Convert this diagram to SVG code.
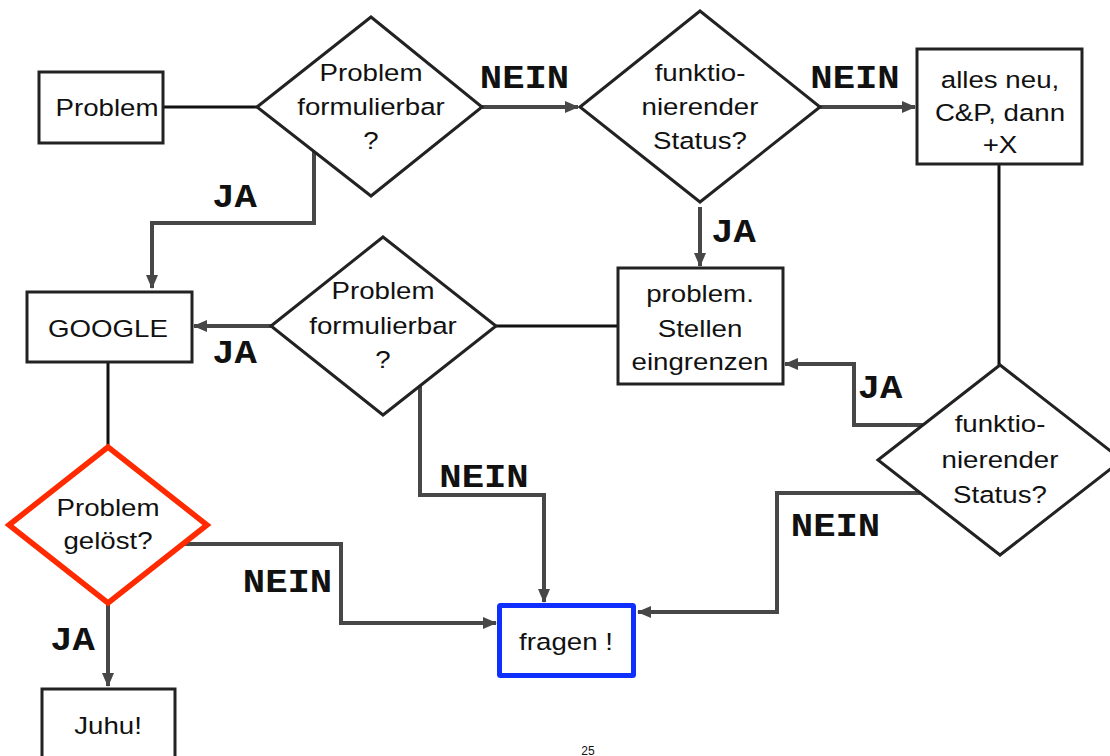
<svg xmlns="http://www.w3.org/2000/svg" width="1110" height="756" viewBox="0 0 1110 756">
<style>
.box{fill:#fff;stroke:#222;stroke-width:3}
.dia{fill:#fff;stroke:#222;stroke-width:3;stroke-linejoin:miter}
.red{fill:#fff;stroke:#ff2a00;stroke-width:5.5;stroke-linejoin:miter}
.blue{fill:#fff;stroke:#0f2fff;stroke-width:5}
.t{font-family:"Liberation Sans",Arial,sans-serif;font-size:24.5px;fill:#111;text-anchor:middle}
.lb{font-family:"Liberation Mono","Courier New",monospace;font-weight:bold;font-size:33px;fill:#111;text-anchor:middle}
.c{fill:none;stroke:#474747;stroke-width:4}
.k{fill:none;stroke:#111;stroke-width:3}
</style>
<defs>
<marker id="ah" markerUnits="userSpaceOnUse" markerWidth="14" markerHeight="12" viewBox="0 0 14 12" refX="13" refY="6" orient="auto">
<path d="M0,0 L14,6 L0,12 z" fill="#474747"/>
</marker>
</defs>
<rect width="1110" height="756" fill="#fff"/>
<g id="connectors">
<line class="k" x1="163" y1="107" x2="258" y2="107"/>
<line class="c" x1="482" y1="107" x2="578" y2="107" marker-end="url(#ah)"/>
<line class="c" x1="820" y1="107" x2="915" y2="107" marker-end="url(#ah)"/>
<line class="c" x1="700" y1="207" x2="700" y2="266" marker-end="url(#ah)"/>
<polyline class="c" points="314,151 314,223 152,223 152,288" marker-end="url(#ah)"/>
<line class="c" x1="271" y1="326" x2="194" y2="326" marker-end="url(#ah)"/>
<line class="k" x1="496" y1="326" x2="618" y2="326"/>
<polyline class="c" points="420,386 420,495 544,495 544,602" marker-end="url(#ah)"/>
<line class="k" x1="999" y1="164" x2="999" y2="365"/>
<polyline class="c" points="923,425 854,425 854,364 785,364" marker-end="url(#ah)"/>
<polyline class="c" points="920,493 777,493 777,612 638,612" marker-end="url(#ah)"/>
<line class="k" x1="108" y1="362" x2="108" y2="447"/>
<polyline class="c" points="184,544 341,544 341,623 496,623" marker-end="url(#ah)"/>
<line class="c" x1="108" y1="603" x2="108" y2="686" marker-end="url(#ah)"/>
<text class="lb" transform="translate(524.5 88) scale(1.13 1)">NEIN</text>
<text class="lb" transform="translate(855 88) scale(1.13 1)">NEIN</text>
<text class="lb" transform="translate(733.5 242) scale(1.13 1)">JA</text>
<text class="lb" transform="translate(234.5 207) scale(1.13 1)">JA</text>
<text class="lb" transform="translate(234.5 363) scale(1.13 1)">JA</text>
<text class="lb" transform="translate(484 487) scale(1.13 1)">NEIN</text>
<text class="lb" transform="translate(880 398) scale(1.13 1)">JA</text>
<text class="lb" transform="translate(835.5 536) scale(1.13 1)">NEIN</text>
<text class="lb" transform="translate(287.5 592) scale(1.13 1)">NEIN</text>
<text class="lb" transform="translate(72.5 650) scale(1.13 1)">JA</text>
</g>
<g id="problem">
<rect class="box" x="39" y="72" width="124" height="71"/>
<text class="t" transform="translate(107 116) scale(1.13 1)">Problem</text>
</g>
<g id="formulierbar1">
<polygon class="dia" points="257,107 371,17 482,107 371,196"/>
<text class="t" transform="translate(371 81) scale(1.13 1)">Problem</text>
<text class="t" transform="translate(371 115) scale(1.13 1)">formulierbar</text>
<text class="t" transform="translate(371 149) scale(1.13 1)">?</text>
</g>
<g id="status1">
<polygon class="dia" points="580,107 700,11 820,107 700,202"/>
<text class="t" transform="translate(700 81) scale(1.13 1)">funktio-</text>
<text class="t" transform="translate(700 115) scale(1.13 1)">nierender</text>
<text class="t" transform="translate(700 149) scale(1.13 1)">Status?</text>
</g>
<g id="allesneu">
<rect class="box" x="917" y="49" width="165" height="115"/>
<text class="t" transform="translate(1000 88) scale(1.13 1)">alles neu,</text>
<text class="t" transform="translate(1000 121) scale(1.13 1)">C&amp;P, dann</text>
<text class="t" transform="translate(1000 153) scale(1.13 1)">+X</text>
</g>
<g id="eingrenzen">
<rect class="box" x="618" y="268" width="165" height="116"/>
<text class="t" transform="translate(700 302) scale(1.13 1)">problem.</text>
<text class="t" transform="translate(700 337) scale(1.13 1)">Stellen</text>
<text class="t" transform="translate(700 370) scale(1.13 1)">eingrenzen</text>
</g>
<g id="formulierbar2">
<polygon class="dia" points="271,326 383,237 496,326 383,415"/>
<text class="t" transform="translate(383 299) scale(1.13 1)">Problem</text>
<text class="t" transform="translate(383 334) scale(1.13 1)">formulierbar</text>
<text class="t" transform="translate(383 368) scale(1.13 1)">?</text>
</g>
<g id="google">
<rect class="box" x="27" y="292" width="165" height="70"/>
<text class="t" transform="translate(108 337) scale(1.13 1)">GOOGLE</text>
</g>
<g id="status2">
<polygon class="dia" points="878,460 1000,365 1122,460 1000,555"/>
<text class="t" transform="translate(1000 432) scale(1.13 1)">funktio-</text>
<text class="t" transform="translate(1000 468) scale(1.13 1)">nierender</text>
<text class="t" transform="translate(1000 503) scale(1.13 1)">Status?</text>
</g>
<g id="geloest">
<polygon class="red" points="9,525 108,447 207,525 108,603"/>
<text class="t" transform="translate(108 516) scale(1.13 1)">Problem</text>
<text class="t" transform="translate(108 549) scale(1.13 1)">gelöst?</text>
</g>
<g id="fragen">
<rect class="blue" x="499.5" y="605.5" width="134" height="70" rx="1"/>
<text class="t" transform="translate(566 650) scale(1.13 1)">fragen !</text>
</g>
<g id="juhu">
<rect class="box" x="42" y="689" width="133" height="90"/>
<text class="t" transform="translate(108 734) scale(1.13 1)">Juhu!</text>
</g>
<text x="588" y="755" font-family="Liberation Sans,Arial,sans-serif" font-size="12" fill="#111" text-anchor="middle">25</text>
</svg>
